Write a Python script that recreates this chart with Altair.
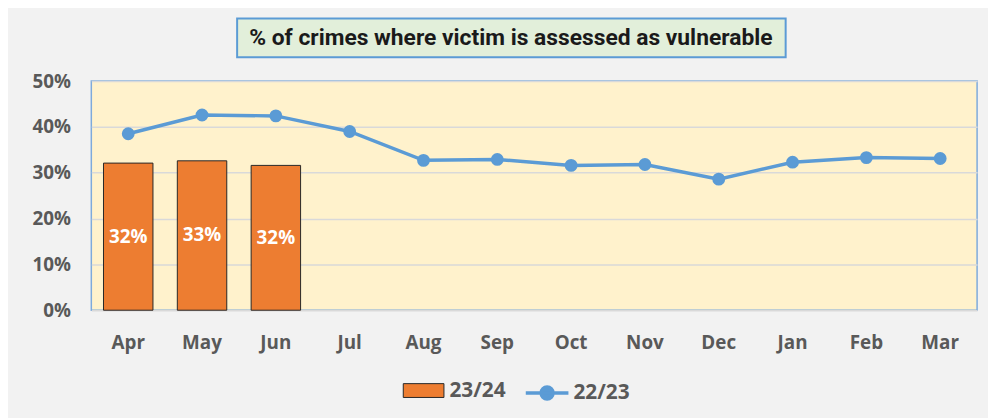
import altair as alt
import pandas as pd

months = ["Apr", "May", "Jun", "Jul", "Aug", "Sep", "Oct", "Nov", "Dec", "Jan", "Feb", "Mar"]
cur_months = ["Apr", "May", "Jun"]
cur_values = [0.321, 0.326, 0.316]
prev_values = [0.385, 0.426, 0.424, 0.390, 0.327, 0.329, 0.316, 0.318, 0.286, 0.323, 0.333, 0.331]
series_cur = "23/24"
series_prev = "22/23"
title_text = "% of crimes where victim is assessed as vulnerable"
y_ticks = [0, 0.1, 0.2, 0.3, 0.4, 0.5]

ORANGE = "#ed7d31"
BLUE = "#5b9bd5"
GREY = "#595959"
FONT = "Open Sans"

bars_df = pd.DataFrame({"month": cur_months, "value": cur_values, "series": series_cur})
line_df = pd.DataFrame({"month": months, "value": prev_values, "series": series_prev})
title_df = pd.DataFrame({"t": [title_text]})

x_enc = alt.X(
    "month:N",
    sort=months,
    scale=alt.Scale(domain=months, paddingInner=0.33, paddingOuter=0.165),
    axis=alt.Axis(title=None, labelAngle=0, labelFont=FONT, labelFontSize=19,
                  labelFontWeight="bold", labelColor=GREY, labelPadding=24,
                  ticks=False, domain=False),
)
y_enc = alt.Y(
    "value:Q",
    scale=alt.Scale(domain=[0, 0.5], nice=False),
    axis=alt.Axis(title=None, values=y_ticks, format=".0%", labelFont=FONT,
                  labelFontSize=19, labelFontWeight="bold", labelColor=GREY,
                  labelPadding=21, ticks=False, domain=False,
                  gridColor="#d9d9d9", gridWidth=1.5),
)

bars = alt.Chart(bars_df).mark_bar(stroke="#262626", strokeWidth=1).encode(
    x=x_enc,
    y=y_enc,
    fill=alt.Fill("series:N", scale=alt.Scale(domain=[series_cur], range=[ORANGE]),
                  legend=alt.Legend(title=None, orient="none", legendX=314, legendY=291,
                                    symbolType="M-1,-0.34H1V0.34H-1Z", symbolSize=1681,
                                    symbolStrokeColor="#262626", symbolStrokeWidth=1,
                                    labelFont=FONT, labelFontSize=21, labelFontWeight="bold",
                                    labelColor=GREY, labelOffset=5, padding=0)),
)

labels = alt.Chart(bars_df).transform_calculate(mid="datum.value / 2").mark_text(
    color="white", fontWeight="bold", fontSize=19, font=FONT, baseline="middle"
).encode(
    x=alt.X("month:N", sort=months),
    y=alt.Y("mid:Q"),
    text=alt.Text("value:Q", format=".0%"),
)

line = alt.Chart(line_df).mark_line(
    strokeWidth=3.5,
    point=alt.OverlayMarkDef(filled=True, size=120, color=BLUE),
).encode(
    x=alt.X("month:N", sort=months),
    y=alt.Y("value:Q"),
    stroke=alt.Stroke("series:N", scale=alt.Scale(domain=[series_prev], range=[BLUE]),
                      legend=alt.Legend(title=None, orient="none", legendX=436, legendY=291,
                                        symbolType="M-1,0H1M-0.28,0A0.28,0.28,0,1,1,0.28,0A0.28,0.28,0,1,1,-0.28,0",
                                        symbolSize=1849, symbolStrokeWidth=3.5,
                                        symbolFillColor=BLUE, symbolStrokeColor=BLUE,
                                        labelFont=FONT, labelFontSize=21, labelFontWeight="bold",
                                        labelColor=GREY, labelOffset=3, padding=0)),
)

title_box = alt.Chart(title_df).mark_rect(fill="#e2efda", stroke="#5b9bd5", strokeWidth=2).encode(
    x=alt.value(147), x2=alt.value(700), y=alt.value(-63), y2=alt.value(-24)
)
title_txt = alt.Chart(title_df).mark_text(
    font="Roboto", fontSize=23, fontWeight="bold", color="#1a1a1a",
    align="center", baseline="middle"
).encode(x=alt.value(423), y=alt.value(-43), text="t:N")

chart = alt.layer(bars, labels, line, title_box, title_txt).resolve_scale(
    fill="independent", stroke="independent"
).properties(
    width=893, height=231,
    autosize=alt.AutoSizeParams(type="none"),
    padding={"left": 84, "top": 72, "right": 11, "bottom": 107},
    background="#f2f2f2",
).configure_view(
    fill="#fff2cc", stroke="#7eaadb", strokeWidth=1.5
)

chart.save("out.html", embed_options={"renderer": "svg", "actions": False})
